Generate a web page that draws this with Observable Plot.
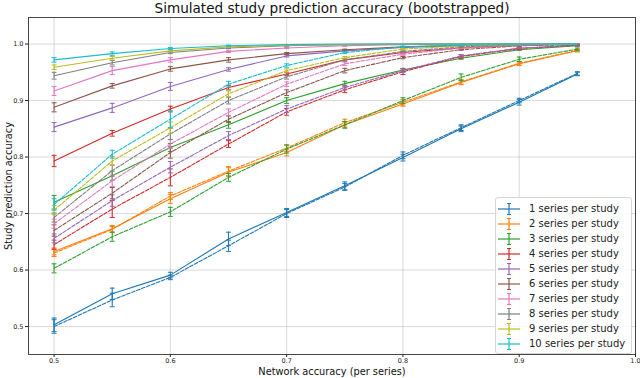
<!DOCTYPE html>
<html>
<head>
<meta charset="utf-8">
<script src="https://cdn.jsdelivr.net/npm/d3@7"></script>
<script src="https://cdn.jsdelivr.net/npm/@observablehq/plot@0.6"></script>
<style>
  body { margin: 0; background: white; font-family: "DejaVu Sans", sans-serif; }
  #wrap { position: relative; width: 640px; height: 378px; overflow: hidden; }
  #legend { position: absolute; left: 495px; top: 197px; width: 137px; padding: 3px 0 2px 0;
    background: rgba(255,255,255,0.85); border: 1px solid #d6d6d6; border-radius: 3px; box-sizing: border-box; }
  .entry { height: 15px; display: flex; align-items: center; font-size: 10px; color: #222; white-space: nowrap; }
  .entry svg { margin-left: 2px; margin-right: 9px; }
</style>
</head>
<body>
<div id="wrap"></div>
<script>
const xs = [0.5, 0.55, 0.6, 0.65, 0.7, 0.75, 0.8, 0.85, 0.9, 0.95];
const seriesNames = ["1 series per study","2 series per study","3 series per study","4 series per study","5 series per study","6 series per study","7 series per study","8 series per study","9 series per study","10 series per study"];
const colors = ["#1f77b4","#ff7f0e","#2ca02c","#d62728","#9467bd","#8c564b","#e377c2","#7f7f7f","#bcbd22","#17becf"];
const xTicks = [0.5, 0.6, 0.7, 0.8, 0.9, 1.0];
const yTicks = [0.5, 0.6, 0.7, 0.8, 0.9, 1.0];

const solidAcc = [
  [0.503, 0.558, 0.591, 0.655, 0.702, 0.749, 0.799, 0.850, 0.897, 0.947],
  [0.633, 0.673, 0.726, 0.773, 0.808, 0.857, 0.894, 0.932, 0.965, 0.988],
  [0.720, 0.767, 0.817, 0.857, 0.900, 0.930, 0.954, 0.975, 0.990, 0.997],
  [0.793, 0.842, 0.885, 0.923, 0.947, 0.972, 0.985, 0.993, 0.998, 1.000],
  [0.853, 0.887, 0.925, 0.955, 0.979, 0.988, 0.994, 0.997, 0.999, 1.000],
  [0.888, 0.926, 0.956, 0.972, 0.983, 0.990, 0.995, 0.998, 0.999, 1.000],
  [0.917, 0.953, 0.972, 0.987, 0.993, 0.997, 0.999, 1.000, 1.000, 1.000],
  [0.944, 0.967, 0.985, 0.993, 0.997, 0.999, 1.000, 1.000, 1.000, 1.000],
  [0.959, 0.975, 0.988, 0.995, 0.998, 0.999, 1.000, 1.000, 1.000, 1.000],
  [0.972, 0.983, 0.992, 0.997, 0.999, 1.000, 1.000, 1.000, 1.000, 1.000]
];
const dashedAcc = [
  [0.500, 0.547, 0.587, 0.643, 0.700, 0.747, 0.803, 0.852, 0.900, 0.948],
  [0.630, 0.672, 0.731, 0.775, 0.816, 0.861, 0.897, 0.933, 0.966, 0.989],
  [0.603, 0.659, 0.703, 0.764, 0.814, 0.857, 0.900, 0.941, 0.973, 0.991],
  [0.645, 0.708, 0.764, 0.823, 0.880, 0.919, 0.951, 0.978, 0.992, 0.998],
  [0.656, 0.723, 0.782, 0.838, 0.885, 0.923, 0.953, 0.979, 0.993, 0.998],
  [0.670, 0.736, 0.808, 0.867, 0.914, 0.953, 0.976, 0.990, 0.997, 0.999],
  [0.682, 0.758, 0.823, 0.879, 0.929, 0.965, 0.982, 0.993, 0.998, 1.000],
  [0.693, 0.776, 0.841, 0.900, 0.942, 0.972, 0.987, 0.995, 0.999, 1.000],
  [0.706, 0.793, 0.852, 0.912, 0.953, 0.976, 0.991, 0.997, 0.999, 1.000],
  [0.716, 0.805, 0.867, 0.929, 0.962, 0.985, 0.995, 0.998, 1.000, 1.000]
];
const solidErr = [
  [0.012, 0.010, 0.005, 0.012, 0.007, 0.007, 0.006, 0.005, 0.005, 0.003],
  [0.006, 0.006, 0.008, 0.008, 0.006, 0.005, 0.004, 0.004, 0.003, 0.002],
  [0.012, 0.008, 0.007, 0.006, 0.005, 0.004, 0.003, 0.002, 0.001, 0.001],
  [0.010, 0.005, 0.005, 0.004, 0.003, 0.002, 0.002, 0.001, 0.001, 0.0005],
  [0.008, 0.008, 0.007, 0.003, 0.002, 0.002, 0.001, 0.001, 0.0005, 0],
  [0.008, 0.004, 0.004, 0.004, 0.002, 0.001, 0.001, 0.0005, 0, 0],
  [0.008, 0.007, 0.004, 0.002, 0.001, 0.001, 0, 0, 0, 0],
  [0.006, 0.004, 0.002, 0.001, 0.001, 0, 0, 0, 0, 0],
  [0.004, 0.003, 0.002, 0.001, 0.001, 0, 0, 0, 0, 0],
  [0.004, 0.003, 0.002, 0.001, 0, 0, 0, 0, 0, 0]
];
const dashedErr = [
  [0.012, 0.012, 0.004, 0.010, 0.007, 0.006, 0.006, 0.005, 0.004, 0.003],
  [0.006, 0.005, 0.006, 0.008, 0.006, 0.006, 0.005, 0.004, 0.003, 0.002],
  [0.008, 0.008, 0.008, 0.007, 0.007, 0.006, 0.005, 0.006, 0.004, 0.002],
  [0.008, 0.015, 0.015, 0.006, 0.006, 0.005, 0.005, 0.003, 0.002, 0.001],
  [0.008, 0.010, 0.010, 0.007, 0.006, 0.004, 0.003, 0.002, 0.001, 0.001],
  [0.010, 0.010, 0.010, 0.006, 0.005, 0.004, 0.002, 0.001, 0.001, 0],
  [0.008, 0.010, 0.008, 0.006, 0.004, 0.003, 0.002, 0.001, 0, 0],
  [0.008, 0.010, 0.010, 0.006, 0.004, 0.002, 0.001, 0.001, 0, 0],
  [0.008, 0.008, 0.010, 0.005, 0.003, 0.002, 0.001, 0, 0, 0],
  [0.010, 0.007, 0.015, 0.005, 0.003, 0.002, 0.001, 0, 0, 0]
];

const capSymbol = {
  draw(context, size) {
    const w = Math.sqrt(size) / 2;
    context.moveTo(-w, 0);
    context.lineTo(w, 0);
  }
};

function rowsFor(acc, err, i) {
  return xs.map((x, j) => ({x, y: acc[i][j], err: err[i][j], lo: acc[i][j] - err[i][j], hi: Math.min(acc[i][j] + err[i][j], 1.0005)}));
}

const marks = [
  Plot.gridX(xTicks, {stroke: "#b0b0b0", strokeOpacity: 0.6, strokeWidth: 0.8}),
  Plot.gridY(yTicks, {stroke: "#b0b0b0", strokeOpacity: 0.6, strokeWidth: 0.8})
];
seriesNames.forEach((name, i) => {
  const c = colors[i];
  const solid = rowsFor(solidAcc, solidErr, i);
  const dashed = rowsFor(dashedAcc, dashedErr, i);
  for (const [rows, dash] of [[solid, null], [dashed, "3.7,1.6"]]) {
    marks.push(Plot.line(rows, {x: "x", y: "y", stroke: c, strokeWidth: 1.1, strokeDasharray: dash}));
    const eb = rows.filter(d => d.err > 0);
    marks.push(Plot.ruleX(eb, {x: "x", y1: "lo", y2: "hi", stroke: c, strokeWidth: 1.1}));
    marks.push(Plot.dot(eb, {x: "x", y: "lo", symbol: capSymbol, r: 2.8, stroke: c, strokeWidth: 1}));
    marks.push(Plot.dot(eb, {x: "x", y: "hi", symbol: capSymbol, r: 2.8, stroke: c, strokeWidth: 1}));
  }
});
marks.push(Plot.frame({stroke: "#333", strokeWidth: 0.9}));
marks.push(Plot.text(["Simulated study prediction accuracy (bootstrapped)"], {frameAnchor: "top", lineAnchor: "middle", textAnchor: "middle", dy: -9, fontSize: 13.6, fill: "#111"}));
marks.push(Plot.text(["Network accuracy (per series)"], {frameAnchor: "bottom", lineAnchor: "middle", textAnchor: "middle", dy: 17, fontSize: 9.8, fill: "#111"}));
marks.push(Plot.text(["Study prediction accuracy"], {frameAnchor: "left", lineAnchor: "middle", textAnchor: "middle", dx: -20, rotate: -90, fontSize: 9.8, fill: "#111"}));

const chart = Plot.plot({
  width: 640,
  height: 378,
  marginTop: 17,
  marginBottom: 24,
  marginLeft: 28,
  marginRight: 5,
  style: {fontFamily: "DejaVu Sans", fontSize: "6.5px", background: "white", color: "#222"},
  x: {domain: [0.478, 1.0], ticks: xTicks, tickFormat: d3.format(".1f"), tickSize: 3, tickPadding: 1, label: null},
  y: {domain: [0.4505, 1.047], ticks: yTicks, tickFormat: d3.format(".1f"), tickSize: 3, tickPadding: 2, label: null},
  marks
});
const wrap = document.getElementById("wrap");
wrap.appendChild(chart);

const legend = document.createElement("div");
legend.id = "legend";
seriesNames.forEach((name, i) => {
  const row = document.createElement("div");
  row.className = "entry";
  const c = colors[i];
  row.innerHTML = `<svg width="22" height="14"><line x1="0" y1="7" x2="22" y2="7" stroke="${c}" stroke-width="1.2"/><line x1="11" y1="1.5" x2="11" y2="12.5" stroke="${c}" stroke-width="1.2"/><line x1="9" y1="1.5" x2="13" y2="1.5" stroke="${c}"/><line x1="9" y1="12.5" x2="13" y2="12.5" stroke="${c}"/></svg><span>${name}</span>`;
  legend.appendChild(row);
});
wrap.appendChild(legend);
</script>
</body>
</html>
